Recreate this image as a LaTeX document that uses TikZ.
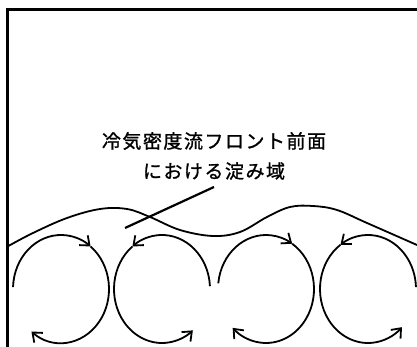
\documentclass[tikz,border=0pt]{standalone}
\usepackage{fontspec}
\newfontfamily\jpfont[LetterSpace=8, FakeBold=1.2]{Noto Sans CJK JP}
\usetikzlibrary{arrows.meta}

\tikzset{
  vortex/.style={line width=1.8pt, -{Straight Barb[length=8pt,width=13pt]}},
  front/.style={line width=1.8pt},
}

\begin{document}
\begin{tikzpicture}[x=1pt, y=1pt]
   \useasboundingbox (0, 0) rectangle (417, 347);
   % outer frame
   \draw[line width=2.2pt] (417, 337.5) -- (7.5, 337.5) -- (7.5, 0);
   % cold air front
   \draw[front] plot[smooth, tension=0.6] coordinates {
      (7.5, 100.5) (33, 114) (67, 129) (100, 138) (127, 138) (150, 130)
      (180, 117) (213, 111) (240, 115) (267, 130) (290, 140) (313, 141)
      (337, 137) (367, 124) (417, 102)};
   % eddy centres
   \coordinate (c1) at (61, 58);
   \coordinate (c2) at (162, 58);
   \coordinate (c3) at (266, 58);
   \coordinate (c4) at (368, 58);
   \draw[vortex] (c1) ++(178:48 and 54) arc[start angle=178, end angle=52, x radius=48, y radius=54];
   \draw[vortex] (c1) ++(52:48 and 54) arc[start angle=52, end angle=-128, x radius=48, y radius=54];
   \draw[vortex] (c2) ++(3:48 and 54) arc[start angle=3, end angle=128, x radius=48, y radius=54];
   \draw[vortex] (c2) ++(128:48 and 54) arc[start angle=128, end angle=310, x radius=48, y radius=54];
   \draw[vortex] (c3) ++(174:48 and 54) arc[start angle=174, end angle=57, x radius=48, y radius=54];
   \draw[vortex] (c3) ++(57:48 and 54) arc[start angle=57, end angle=-134, x radius=48, y radius=54];
   \draw[vortex] (c4) ++(2:48 and 54) arc[start angle=2, end angle=125, x radius=48, y radius=54];
   \draw[vortex] (c4) ++(125:48 and 54) arc[start angle=125, end angle=315, x radius=48, y radius=54];
   % label and leader
   \node[anchor=south, align=center, inner xsep=1pt, inner ysep=7pt, font=\jpfont\fontsize{19}{30}\selectfont] (stagnation) at (214, 160)
      {冷気密度流フロント前面\\における淀み域};
   \coordinate (pool) at (125, 119);
   \draw[line width=2.2pt] (pool) -- (stagnation.south);
\end{tikzpicture}
\end{document}
